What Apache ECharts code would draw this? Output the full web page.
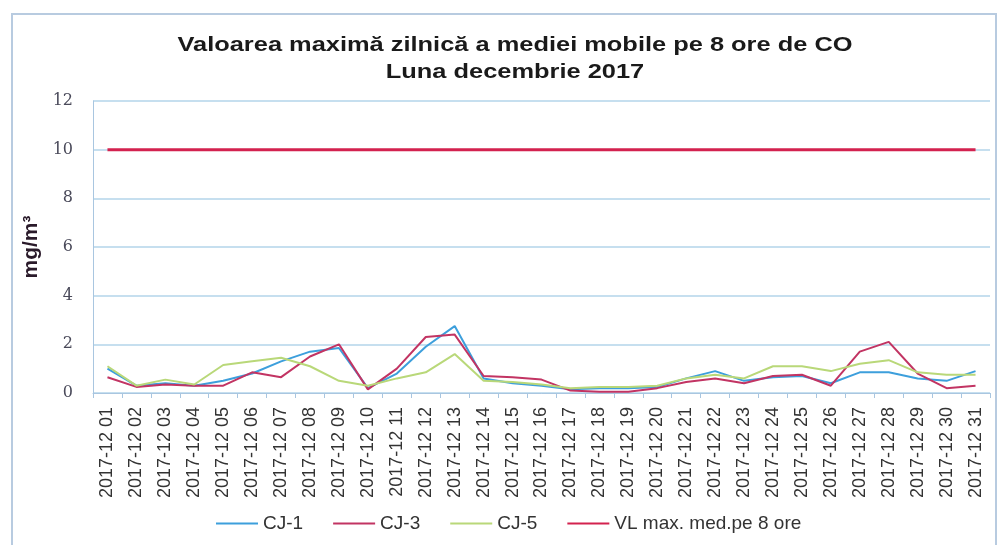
<!DOCTYPE html>
<html>
<head>
<meta charset="utf-8">
<script src="https://cdn.jsdelivr.net/npm/echarts@6/dist/echarts.min.js"></script>
<style>
  html, body { margin: 0; padding: 0; background: #fff; }
  #chart { width: 1001px; height: 545px; }
</style>
</head>
<body>
<div id="chart"></div>
<script>
/* ─── data ─── */
const days = [];
for (let d = 1; d <= 31; d++) days.push("2017-12 " + String(d).padStart(2, "0"));

const cj1 = [1.0, 0.3, 0.4, 0.3, 0.5, 0.8, 1.3, 1.7, 1.85, 0.2, 0.8, 1.9, 2.75, 0.6, 0.4, 0.3,
  0.15, 0.2, 0.2, 0.25, 0.6, 0.9, 0.5, 0.65, 0.7, 0.4, 0.85, 0.85, 0.6, 0.5, 0.9];
const cj3 = [0.65, 0.25, 0.35, 0.3, 0.3, 0.85, 0.65, 1.5, 2.0, 0.15, 1.0, 2.3, 2.4, 0.7, 0.65, 0.55,
  0.1, 0.05, 0.05, 0.2, 0.45, 0.6, 0.4, 0.7, 0.75, 0.3, 1.7, 2.1, 0.8, 0.2, 0.3];
const cj5 = [1.1, 0.3, 0.55, 0.35, 1.15, 1.3, 1.45, 1.1, 0.5, 0.3, 0.6, 0.85, 1.6, 0.5, 0.45, 0.35,
  0.2, 0.25, 0.25, 0.3, 0.6, 0.75, 0.6, 1.1, 1.1, 0.9, 1.2, 1.35, 0.85, 0.75, 0.75];
const vl = days.map(() => 10);

const yTicks = [0, 2, 4, 6, 8, 10, 12];

const SERIES = [
  { name: "CJ-1", data: cj1, color: "#3d9fdc", width: 2 },
  { name: "CJ-3", data: cj3, color: "#c23463", width: 2 },
  { name: "CJ-5", data: cj5, color: "#b9d879", width: 2 },
  { name: "VL max. med.pe 8 ore", data: vl, color: "#d3224f", width: 3 },
];

const chart = echarts.init(document.getElementById("chart"), null, { renderer: "canvas" });

const titleStyle = { fontSize: 21, fontWeight: "bold", fill: "#1a1a1a", fontFamily: "Liberation Sans, Arial, sans-serif" };

chart.setOption({
  backgroundColor: "#fff",
  textStyle: { fontFamily: "Liberation Sans, Arial, sans-serif" },
  graphic: [
    {
      type: "rect",
      shape: { x: 12, y: 14, width: 984, height: 535 },
      style: { fill: "none", stroke: "#b8cbe0", lineWidth: 2 },
      silent: true,
    },
    {
      // title, stretched sideways like the scanned original
      type: "text",
      x: 515, y: 45, scaleX: 1.21,
      style: { ...titleStyle, text: "Valoarea maximă zilnică a mediei mobile pe 8 ore de CO", align: "center", verticalAlign: "middle" },
    },
    {
      type: "text",
      x: 515, y: 72, scaleX: 1.21,
      style: { ...titleStyle, text: "Luna decembrie 2017", align: "center", verticalAlign: "middle" },
    },
  ],
  legend: {
    top: 509,
    left: 211,
    itemWidth: 42,
    itemHeight: 2,
    itemGap: 30,
    icon: "rect",
    textStyle: { fontSize: 19, color: "#333" },
    data: SERIES.map((s) => s.name),
  },
  grid: { left: 93, right: 11, top: 101, bottom: 152 },
  xAxis: {
    type: "category",
    data: days,
    boundaryGap: true,
    axisLine: { lineStyle: { color: "#a9c6e0" } },
    axisTick: { show: true, lineStyle: { color: "#a9c6e0" } },
    axisLabel: {
      rotate: 90,
      interval: 0,
      fontSize: 18,
      color: "#333",
      margin: 14,
    },
    splitLine: { show: false },
  },
  yAxis: {
    type: "value",
    min: 0,
    max: 12,
    interval: 2,
    name: "mg/m³",
    nameLocation: "middle",
    nameGap: 40,
    nameRotate: 90,
    nameTextStyle: { fontSize: 21, fontWeight: "bold", color: "#2a1a2a" },
    axisLine: { show: true, lineStyle: { color: "#a9c6e0" } },
    axisTick: { show: false },
    axisLabel: {
      fontSize: 16,
      color: "#4a4a5a",
      fontFamily: "DejaVu Serif, serif",
      margin: 20,
      formatter: (v) => (yTicks.includes(v) ? String(v) : ""),
    },
    splitLine: { lineStyle: { color: "#b3d4ea", width: 1.5 } },
  },
  series: SERIES.map((s) => ({
    type: "line",
    name: s.name,
    data: s.data,
    symbol: "none",
    smooth: false,
    lineStyle: { color: s.color, width: s.width },
    itemStyle: { color: s.color },
    animation: false,
  })),
});
</script>
</body>
</html>
